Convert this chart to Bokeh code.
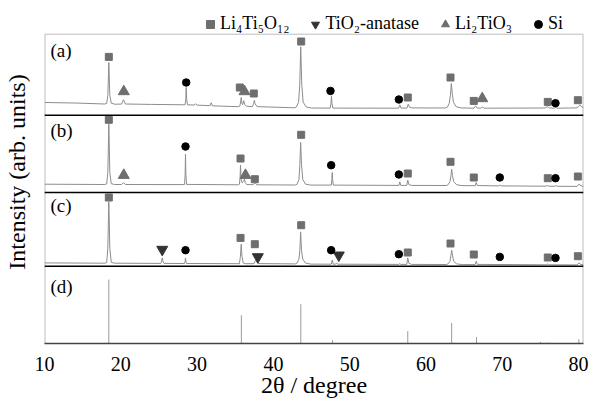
from bokeh.plotting import figure
from bokeh.models import Range1d, FixedTicker, Span, Label, Legend, LegendItem
from bokeh.embed import file_html
from bokeh.resources import INLINE

FONT = "Liberation Serif"
AXFONT = "serif"

# ---------------- data ----------------
x_ticks = [10, 20, 30, 40, 50, 60, 70, 80]
panel_names = ["(a)", "(b)", "(c)", "(d)"]
panel_offsets = [228.3, 151.0, 77.3, 0.0]     # floor of each stacked pattern
panel_top = 309.3                              # top of the stacked plot area
label_heights = [65.0, 61.7, 60.5, 56.6]       # height of panel tag above floor

# pattern (a)
a_x = [10.0, 14.0, 17.9, 18.15, 18.3, 18.43, 18.56, 18.75, 19.2, 20.1, 20.35, 20.6, 24.0,
       28.42, 28.52, 28.57, 28.63, 28.75, 29.6, 29.8, 30.0, 31.7, 31.85, 32.0, 35.4,
       35.6, 35.72, 35.78, 35.86, 35.98, 36.12, 36.22, 36.45, 37.25, 37.4, 37.5, 37.6, 37.85,
       42.8, 43.0, 43.3, 43.45, 43.58, 43.72, 43.9, 44.3, 45.0,
       47.45, 47.55, 47.61, 47.67, 47.8, 56.4, 56.57, 56.72, 57.5, 57.67, 57.85, 58.2,
       62.5, 62.8, 63.05, 63.2, 63.32, 63.45, 63.6, 63.95, 64.6, 66.3, 66.5, 66.7,
       67.2, 67.4, 67.6, 75.6, 75.9, 76.2, 76.8, 77.0, 77.2, 79.8, 80.05, 80.16, 80.35, 80.64]
a_y = [12.7, 12.2, 11.2, 11.8, 20.0, 52.7, 20.0, 12.0, 11.0, 11.1, 15.5, 11.2, 10.8,
       10.4, 16.0, 27.7, 16.0, 10.3, 10.2, 11.3, 10.1, 9.5, 12.5, 9.4, 8.5,
       9.0, 14.0, 17.7, 12.0, 10.5, 14.5, 11.0, 9.0, 8.6, 11.5, 15.0, 11.5, 8.6,
       7.4, 8.2, 13.0, 30.0, 68.3, 30.0, 13.0, 8.2, 7.2,
       7.1, 12.0, 19.3, 12.0, 7.1, 7.0, 10.3, 7.1, 7.1, 11.0, 8.0, 7.3,
       7.2, 8.0, 12.0, 20.0, 31.7, 21.0, 13.0, 8.5, 7.3, 7.0, 9.3, 7.2,
       7.0, 8.3, 7.0, 7.2, 8.5, 7.3, 7.0, 8.0, 7.0, 7.3, 9.5, 10.3, 8.5, 7.8]

# pattern (b)
b_x = [10.0, 17.9, 18.15, 18.3, 18.43, 18.56, 18.75, 19.2, 20.1, 20.35, 20.6, 28.3,
       28.36, 28.43, 28.48, 28.53, 28.62, 35.4, 35.55, 35.63, 35.69, 35.76, 35.9, 36.1, 36.2,
       36.3, 36.5, 37.35, 37.48, 37.56, 37.65, 37.85, 42.9, 43.1, 43.35, 43.47, 43.57, 43.68,
       43.85, 44.2, 44.9, 47.58, 47.66, 47.71, 47.76, 47.85, 56.45, 56.57, 56.69, 57.48, 57.61,
       57.75, 58.1, 62.7, 62.9, 63.15, 63.27, 63.36, 63.47, 63.62, 64.0, 64.7, 66.45, 66.58,
       66.72, 69.5, 69.67, 69.85, 75.7, 75.9, 76.1, 76.8, 77.0, 77.2, 79.8, 80.03, 80.3, 80.64]
b_y = [8.3, 8.0, 8.6, 20.0, 68.3, 20.0, 8.8, 8.0, 8.0, 10.0, 8.0, 7.9,
       8.1, 18.0, 38.3, 18.0, 8.1, 7.7, 8.2, 15.0, 27.3, 14.0, 9.5, 11.0, 13.3,
       10.0, 8.0, 7.8, 9.0, 10.0, 9.0, 7.7, 7.5, 8.3, 13.0, 28.0, 50.0, 28.0,
       13.0, 8.3, 7.4, 7.4, 13.0, 20.0, 13.0, 7.4, 7.1, 10.7, 7.1, 7.1, 12.3,
       8.0, 7.1, 7.0, 7.8, 11.0, 17.0, 23.3, 17.0, 11.0, 7.8, 6.9, 6.8, 10.0,
       7.0, 6.6, 7.4, 6.6, 6.3, 7.0, 6.3, 6.2, 6.9, 6.2, 6.1, 8.3, 6.8, 6.0]

# pattern (c)
c_x = [10.0, 17.9, 18.15, 18.3, 18.43, 18.56, 18.75, 19.2, 25.25, 25.35, 25.43, 25.52, 25.65,
       28.35, 28.43, 28.48, 28.53, 28.62, 35.55, 35.68, 35.78, 35.88, 36.05, 36.3,
       37.45, 37.6, 37.68, 37.8, 38.0, 42.9, 43.1, 43.35, 43.47, 43.57, 43.68, 43.85, 44.2, 44.9,
       47.58, 47.71, 47.84, 48.15, 48.27, 48.4, 56.45, 56.57, 56.69, 57.48, 57.61, 57.75, 58.1,
       62.7, 62.9, 63.15, 63.27, 63.36, 63.47, 63.62, 64.0, 64.7, 66.45, 66.58, 66.72,
       75.7, 75.9, 76.1, 79.8, 80.03, 80.3, 80.64]
c_y = [3.3, 3.0, 3.6, 18.0, 64.3, 18.0, 3.8, 3.0, 2.8, 5.0, 8.3, 5.0, 2.8,
       2.7, 5.0, 8.3, 5.0, 2.7, 2.5, 10.0, 22.0, 10.0, 3.2, 2.5,
       2.5, 5.0, 6.0, 4.5, 2.6, 2.3, 3.2, 7.0, 16.0, 34.3, 16.0, 7.0, 3.2, 2.1,
       2.0, 6.0, 2.0, 2.0, 3.3, 2.0, 1.8, 2.7, 1.8, 1.8, 8.3, 3.0, 1.8,
       1.7, 2.4, 5.0, 11.0, 16.0, 11.0, 5.0, 2.4, 1.6, 1.6, 5.0, 1.8,
       1.4, 2.2, 1.4, 1.3, 3.3, 1.8, 1.3]

# reference pattern (d): stick positions and heights
d_pos = [18.43, 35.80, 43.59, 47.75, 57.61, 63.36, 66.62, 75.01, 75.97, 80.03]
d_int = [64.0, 28.3, 39.3, 3.3, 12.3, 20.6, 6.6, 1.6, 1.0, 4.3]

# phase markers: (2θ, height above panel floor), per panel
lto_x = {"a": [18.43, 35.60, 37.43, 43.64, 57.61, 63.21, 66.26, 75.96, 79.90],
         "b": [18.43, 35.69, 37.56, 43.64, 57.61, 63.21, 66.26, 75.96, 79.90],
         "c": [18.43, 35.69, 37.56, 43.64, 57.61, 63.21, 66.26, 75.96, 79.90]}
lto_y = {"a": [58.3, 27.7, 21.7, 73.7, 17.7, 37.7, 14.3, 13.3, 15.0],
         "b": [72.7, 34.0, 13.3, 57.7, 19.0, 30.7, 15.0, 14.3, 16.0],
         "c": [68.7, 28.3, 22.0, 41.0, 13.7, 22.7, 11.7, 8.7, 10.0]}
ana_x = {"c": [25.43, 37.96, 48.57]}
ana_y = {"c": [16.7, 9.3, 11.0]}
l2t_x = {"a": [20.39, 36.21, 67.37], "b": [20.39, 36.34]}
l2t_y = {"a": [23.7, 23.7, 16.7], "b": [17.3, 17.3]}
si_x = {"a": [28.57, 47.48, 56.44, 76.97],
        "b": [28.48, 47.57, 56.44, 69.67, 76.97],
        "c": [28.48, 47.57, 56.44, 69.67, 76.97]}
si_y = {"a": [32.7, 24.3, 15.7, 12.0],
        "b": [46.0, 27.3, 18.0, 15.0, 14.3],
        "c": [16.0, 16.0, 12.0, 9.3, 8.3]}

legend_labels = ["Li\u2084Ti\u2085O\u2081\u2082", "TiO\u2082-anatase", "Li\u2082TiO\u2083", "Si"]

# ---------------- figure ----------------
off = dict(a=panel_offsets[0], b=panel_offsets[1], c=panel_offsets[2])
X0, X1 = 10, 80.64

p = figure(width=595, height=401, x_range=Range1d(X0, X1), y_range=Range1d(0, 343),
           output_backend="svg", toolbar_location=None,
           min_border_left=44, min_border_right=12, min_border_top=0, min_border_bottom=58)
p.grid.visible = False
p.outline_line_color = None
p.background_fill_color = "white"
p.border_fill_color = "white"

# frame of the stacked area (top, left, right borders)
border_col = "#bdbdbd"
p.add_layout(Span(location=panel_top, dimension="width", line_color=border_col, line_width=1))
p.segment(x0=[X0, X1], y0=[0, 0], x1=[X0, X1], y1=[panel_top, panel_top],
          line_color=border_col, line_width=2)

line_col = "#8c8c8c"
for xs, ys, k in [(a_x, a_y, "a"), (b_x, b_y, "b"), (c_x, c_y, "c")]:
    p.line(xs, [v + off[k] for v in ys], line_color=line_col, line_width=1)

p.segment(x0=d_pos, y0=[0] * len(d_pos), x1=d_pos, y1=d_int, line_color="#9a9a9a", line_width=1)

def gather(dx, dy):
    xs, ys = [], []
    for k in dx:
        xs += dx[k]
        ys += [v + off[k] for v in dy[k]]
    return xs, ys

xs, ys = gather(lto_x, lto_y)
r_lto = p.scatter(xs, ys, marker="square", size=7, fill_color="#6e6e6e", line_color="#6e6e6e")
xs, ys = gather(ana_x, ana_y)
r_ana = p.scatter(xs, ys, marker="inverted_triangle", size=11, fill_color="#333333", line_color="#333333")
xs, ys = gather(l2t_x, l2t_y)
r_l2t = p.scatter(xs, ys, marker="triangle", size=11, fill_color="#6e6e6e", line_color="#6e6e6e")
xs, ys = gather(si_x, si_y)
r_si = p.scatter(xs, ys, marker="circle", size=7.5, fill_color="black", line_color="black")

for loc in panel_offsets[:3]:
    p.add_layout(Span(location=loc, dimension="width", line_color="black", line_width=1.6))

for name, o, h in zip(panel_names, panel_offsets, label_heights):
    p.add_layout(Label(x=10.79, y=o + h, text=name, text_font=FONT, text_font_size="19px",
                       text_baseline="middle", text_align="left", text_color="black"))

# axes
ax = p.xaxis[0]
ax.ticker = FixedTicker(ticks=x_ticks)
ax.major_tick_out = 0
ax.major_tick_in = 0
ax.minor_tick_line_color = None
ax.axis_line_color = "#444444"
ax.axis_line_width = 1.5
ax.major_label_text_font = AXFONT
ax.major_label_text_font_size = "20px"
ax.major_label_text_color = "black"
ax.major_label_standoff = 13
ax.axis_label = "2\u03b8 / degree"
ax.axis_label_text_font = AXFONT
ax.axis_label_text_font_size = "24px"
ax.axis_label_text_font_style = "normal"
ax.axis_label_text_color = "black"
ax.axis_label_standoff = -2

ay = p.yaxis[0]
ay.ticker = FixedTicker(ticks=[])
ay.axis_line_color = None
ay.major_tick_line_color = None
ay.minor_tick_line_color = None
ay.axis_label = "Intensity (arb. units)"
ay.axis_label_text_font = AXFONT
ay.axis_label_text_font_size = "24px"
ay.axis_label_text_font_style = "normal"
ay.axis_label_text_color = "black"
ay.axis_label_standoff = 15

legend = Legend(items=[LegendItem(label=legend_labels[0], renderers=[r_lto]),
                       LegendItem(label=legend_labels[1], renderers=[r_ana]),
                       LegendItem(label=legend_labels[2], renderers=[r_l2t]),
                       LegendItem(label=legend_labels[3], renderers=[r_si])],
                orientation="horizontal", location=(156, 309), margin=0, padding=0,
                spacing=16, label_standoff=0, glyph_width=20, glyph_height=20,
                label_text_font=FONT, label_text_font_size="18px", label_text_color="black",
                border_line_color=None, background_fill_alpha=0)
p.add_layout(legend, "center")

open("out.html", "w").write(file_html(p, INLINE))
